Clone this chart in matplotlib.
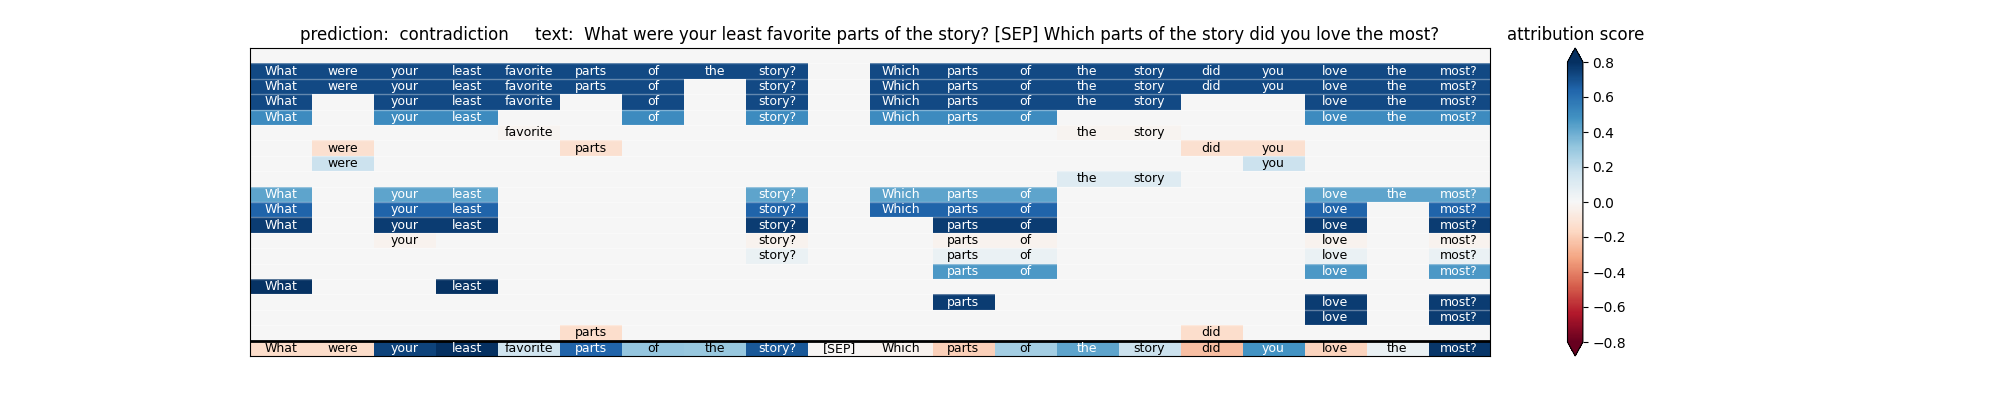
import matplotlib
matplotlib.use("Agg")
import matplotlib.pyplot as plt
import numpy as np

prediction = "contradiction"
tokens = ["What", "were", "your", "least", "favorite", "parts", "of", "the", "story?", "[SEP]",
          "Which", "parts", "of", "the", "story", "did", "you", "love", "the", "most?"]

# token groups found at each level (indices into tokens) and their score
group_members = [
    [0, 1, 2, 3, 4, 5, 6, 7, 8, 10, 11, 12, 13, 14, 15, 16, 17, 18, 19],
    [0, 1, 2, 3, 4, 5, 6, 8, 10, 11, 12, 13, 14, 15, 16, 17, 18, 19],
    [0, 2, 3, 4, 6, 8, 10, 11, 12, 13, 14, 17, 18, 19],
    [0, 2, 3, 6, 8, 10, 11, 12, 17, 18, 19],
    [4, 13, 14],
    [1, 5, 15, 16],
    [1, 16],
    [13, 14],
    [0, 2, 3, 8, 10, 11, 12, 17, 18, 19],
    [0, 2, 3, 8, 10, 11, 12, 17, 19],
    [0, 2, 3, 8, 11, 12, 17, 19],
    [2, 8, 11, 12, 17, 19],
    [8, 11, 12, 17, 19],
    [11, 12, 17, 19],
    [0, 3],
    [11, 17, 19],
    [17, 19],
    [5, 15],
]
group_scores = [0.72, 0.72, 0.72, 0.5, -0.02, -0.13, 0.17, 0.1, 0.42, 0.64,
                0.76, -0.03, 0.05, 0.46, 0.79, 0.76, 0.76, -0.14]

# per token attribution (bottom row)
token_scores = [-0.15, -0.15, 0.74, 0.8, 0.16, 0.64, 0.31, 0.3, 0.68, -0.01,
                -0.03, -0.19, 0.27, 0.42, 0.17, -0.24, 0.48, -0.18, 0.05, 0.78]

n_tok = len(tokens)
n_rows = len(group_members) + 2
grid = np.zeros((n_rows, n_tok))
for r, (members, score) in enumerate(zip(group_members, group_scores), start=1):
    grid[r, members] = score
grid[-1] = token_scores

fig, ax = plt.subplots(figsize=(20, 4), dpi=100)
im = ax.imshow(grid, cmap="RdBu", vmin=-0.8, vmax=0.8, aspect="auto",
               interpolation="nearest", extent=(0, n_tok, n_rows, 0))

# words in the cells
for r, (members, score) in enumerate(zip(group_members, group_scores), start=1):
    for i in members:
        col = "white" if abs(score) > 0.35 else "black"
        ax.text(i + 0.5, r + 0.5, tokens[i], ha="center", va="center", fontsize=9, color=col)
for i, score in enumerate(token_scores):
    col = "white" if abs(score) > 0.35 else "black"
    ax.text(i + 0.5, n_rows - 0.5, tokens[i], ha="center", va="center", fontsize=9, color=col)

ax.hlines(np.arange(1, n_rows - 1), 0, n_tok, colors="white", alpha=0.35, lw=1)
ax.axhline(n_rows - 1, color="black", lw=2)
ax.set_xlim(0, n_tok)
ax.set_ylim(n_rows, 0)
ax.set_xticks([])
ax.set_yticks([])

ax.set_title("prediction:  " + prediction + "     text:  " + " ".join(tokens))
cbar = fig.colorbar(im, ax=ax, extend="both")
cbar.ax.set_title("attribution score")

fig.savefig("out.png")
